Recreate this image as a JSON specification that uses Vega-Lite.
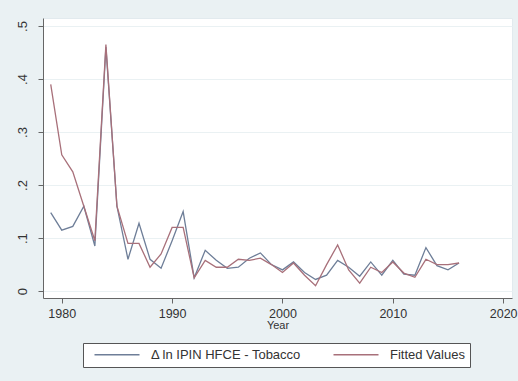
{
  "$schema": "https://vega.github.io/schema/vega-lite/v6.json",
  "autosize": {"type": "none"},
  "width": 469,
  "height": 280,
  "padding": {"left": 43, "top": 18, "right": 6, "bottom": 83},
  "background": "#eaf1f3",
  "config": {
    "font": "Liberation Sans",
    "view": {"fill": "#ffffff", "stroke": "#e2eaee"}
  },
  "data": {
    "values": [
      {"year": 1979, "series": "Δ ln IPIN HFCE - Tobacco", "value": 0.148},
      {"year": 1980, "series": "Δ ln IPIN HFCE - Tobacco", "value": 0.115},
      {"year": 1981, "series": "Δ ln IPIN HFCE - Tobacco", "value": 0.122},
      {"year": 1982, "series": "Δ ln IPIN HFCE - Tobacco", "value": 0.16},
      {"year": 1983, "series": "Δ ln IPIN HFCE - Tobacco", "value": 0.085},
      {"year": 1984, "series": "Δ ln IPIN HFCE - Tobacco", "value": 0.46},
      {"year": 1985, "series": "Δ ln IPIN HFCE - Tobacco", "value": 0.16},
      {"year": 1986, "series": "Δ ln IPIN HFCE - Tobacco", "value": 0.06},
      {"year": 1987, "series": "Δ ln IPIN HFCE - Tobacco", "value": 0.128},
      {"year": 1988, "series": "Δ ln IPIN HFCE - Tobacco", "value": 0.06},
      {"year": 1989, "series": "Δ ln IPIN HFCE - Tobacco", "value": 0.043},
      {"year": 1990, "series": "Δ ln IPIN HFCE - Tobacco", "value": 0.095},
      {"year": 1991, "series": "Δ ln IPIN HFCE - Tobacco", "value": 0.15},
      {"year": 1992, "series": "Δ ln IPIN HFCE - Tobacco", "value": 0.025},
      {"year": 1993, "series": "Δ ln IPIN HFCE - Tobacco", "value": 0.077},
      {"year": 1994, "series": "Δ ln IPIN HFCE - Tobacco", "value": 0.058},
      {"year": 1995, "series": "Δ ln IPIN HFCE - Tobacco", "value": 0.043},
      {"year": 1996, "series": "Δ ln IPIN HFCE - Tobacco", "value": 0.045},
      {"year": 1997, "series": "Δ ln IPIN HFCE - Tobacco", "value": 0.062},
      {"year": 1998, "series": "Δ ln IPIN HFCE - Tobacco", "value": 0.072},
      {"year": 1999, "series": "Δ ln IPIN HFCE - Tobacco", "value": 0.05},
      {"year": 2000, "series": "Δ ln IPIN HFCE - Tobacco", "value": 0.04},
      {"year": 2001, "series": "Δ ln IPIN HFCE - Tobacco", "value": 0.055},
      {"year": 2002, "series": "Δ ln IPIN HFCE - Tobacco", "value": 0.035},
      {"year": 2003, "series": "Δ ln IPIN HFCE - Tobacco", "value": 0.022},
      {"year": 2004, "series": "Δ ln IPIN HFCE - Tobacco", "value": 0.03},
      {"year": 2005, "series": "Δ ln IPIN HFCE - Tobacco", "value": 0.058},
      {"year": 2006, "series": "Δ ln IPIN HFCE - Tobacco", "value": 0.045},
      {"year": 2007, "series": "Δ ln IPIN HFCE - Tobacco", "value": 0.028},
      {"year": 2008, "series": "Δ ln IPIN HFCE - Tobacco", "value": 0.055},
      {"year": 2009, "series": "Δ ln IPIN HFCE - Tobacco", "value": 0.03},
      {"year": 2010, "series": "Δ ln IPIN HFCE - Tobacco", "value": 0.058},
      {"year": 2011, "series": "Δ ln IPIN HFCE - Tobacco", "value": 0.032},
      {"year": 2012, "series": "Δ ln IPIN HFCE - Tobacco", "value": 0.03},
      {"year": 2013, "series": "Δ ln IPIN HFCE - Tobacco", "value": 0.082},
      {"year": 2014, "series": "Δ ln IPIN HFCE - Tobacco", "value": 0.048},
      {"year": 2015, "series": "Δ ln IPIN HFCE - Tobacco", "value": 0.04},
      {"year": 2016, "series": "Δ ln IPIN HFCE - Tobacco", "value": 0.053},
      {"year": 1979, "series": "Fitted Values", "value": 0.39},
      {"year": 1980, "series": "Fitted Values", "value": 0.257},
      {"year": 1981, "series": "Fitted Values", "value": 0.225},
      {"year": 1982, "series": "Fitted Values", "value": 0.16},
      {"year": 1983, "series": "Fitted Values", "value": 0.095},
      {"year": 1984, "series": "Fitted Values", "value": 0.465},
      {"year": 1985, "series": "Fitted Values", "value": 0.16},
      {"year": 1986, "series": "Fitted Values", "value": 0.09},
      {"year": 1987, "series": "Fitted Values", "value": 0.09},
      {"year": 1988, "series": "Fitted Values", "value": 0.045},
      {"year": 1989, "series": "Fitted Values", "value": 0.07},
      {"year": 1990, "series": "Fitted Values", "value": 0.12},
      {"year": 1991, "series": "Fitted Values", "value": 0.12},
      {"year": 1992, "series": "Fitted Values", "value": 0.025},
      {"year": 1993, "series": "Fitted Values", "value": 0.058},
      {"year": 1994, "series": "Fitted Values", "value": 0.045},
      {"year": 1995, "series": "Fitted Values", "value": 0.045},
      {"year": 1996, "series": "Fitted Values", "value": 0.06},
      {"year": 1997, "series": "Fitted Values", "value": 0.058},
      {"year": 1998, "series": "Fitted Values", "value": 0.062},
      {"year": 1999, "series": "Fitted Values", "value": 0.05},
      {"year": 2000, "series": "Fitted Values", "value": 0.035},
      {"year": 2001, "series": "Fitted Values", "value": 0.053},
      {"year": 2002, "series": "Fitted Values", "value": 0.03},
      {"year": 2003, "series": "Fitted Values", "value": 0.01},
      {"year": 2004, "series": "Fitted Values", "value": 0.05},
      {"year": 2005, "series": "Fitted Values", "value": 0.087},
      {"year": 2006, "series": "Fitted Values", "value": 0.04},
      {"year": 2007, "series": "Fitted Values", "value": 0.015},
      {"year": 2008, "series": "Fitted Values", "value": 0.045},
      {"year": 2009, "series": "Fitted Values", "value": 0.035},
      {"year": 2010, "series": "Fitted Values", "value": 0.055},
      {"year": 2011, "series": "Fitted Values", "value": 0.034},
      {"year": 2012, "series": "Fitted Values", "value": 0.026},
      {"year": 2013, "series": "Fitted Values", "value": 0.06},
      {"year": 2014, "series": "Fitted Values", "value": 0.05},
      {"year": 2015, "series": "Fitted Values", "value": 0.05},
      {"year": 2016, "series": "Fitted Values", "value": 0.053}
    ]
  },
  "mark": {"type": "line", "strokeWidth": 1.3, "clip": true},
  "encoding": {
    "x": {
      "field": "year",
      "type": "quantitative",
      "scale": {"domain": [1978.3, 2020.8], "nice": false, "zero": false},
      "axis": {
        "values": [1980, 1990, 2000, 2010, 2020],
        "format": "d",
        "title": "Year",
        "titleFontSize": 11,
        "titleFontWeight": "normal",
        "titleColor": "#333333",
        "titlePadding": 0,
        "labelFontSize": 12.5,
        "labelColor": "#333333",
        "labelPadding": 4,
        "tickSize": 5,
        "domainColor": "#666666",
        "tickColor": "#666666",
        "grid": false
      }
    },
    "y": {
      "field": "value",
      "type": "quantitative",
      "scale": {"domain": [-0.013, 0.515], "nice": false, "zero": false},
      "axis": {
        "values": [0, 0.1, 0.2, 0.3, 0.4, 0.5],
        "labelExpr": "datum.value == 0 ? '0' : replace(format(datum.value, '.1f'), '0.', '.')",
        "title": null,
        "labelAngle": -90,
        "labelAlign": "center",
        "labelBaseline": "bottom",
        "labelFontSize": 13,
        "labelColor": "#333333",
        "labelPadding": 9,
        "tickSize": 5,
        "domainColor": "#666666",
        "tickColor": "#666666",
        "grid": true,
        "gridColor": "#eaf1f3",
        "gridWidth": 1.2
      }
    },
    "color": {
      "field": "series",
      "type": "nominal",
      "scale": {
        "domain": ["Δ ln IPIN HFCE - Tobacco", "Fitted Values"],
        "range": ["#6e7e98", "#a8707a"]
      },
      "legend": {
        "title": null,
        "orient": "none",
        "legendX": 40,
        "legendY": 325,
        "direction": "horizontal",
        "columns": 2,
        "symbolType": "M0,0H20",
        "symbolSize": 20.25,
        "symbolStrokeWidth": 1.5,
        "symbolFillColor": "transparent",
        "labelOffset": 50,
        "labelFontSize": 13,
        "labelColor": "#333333",
        "labelLimit": 300,
        "columnPadding": 25,
        "fillColor": "#ffffff",
        "strokeColor": "#555555",
        "padding": 5
      }
    }
  }
}
